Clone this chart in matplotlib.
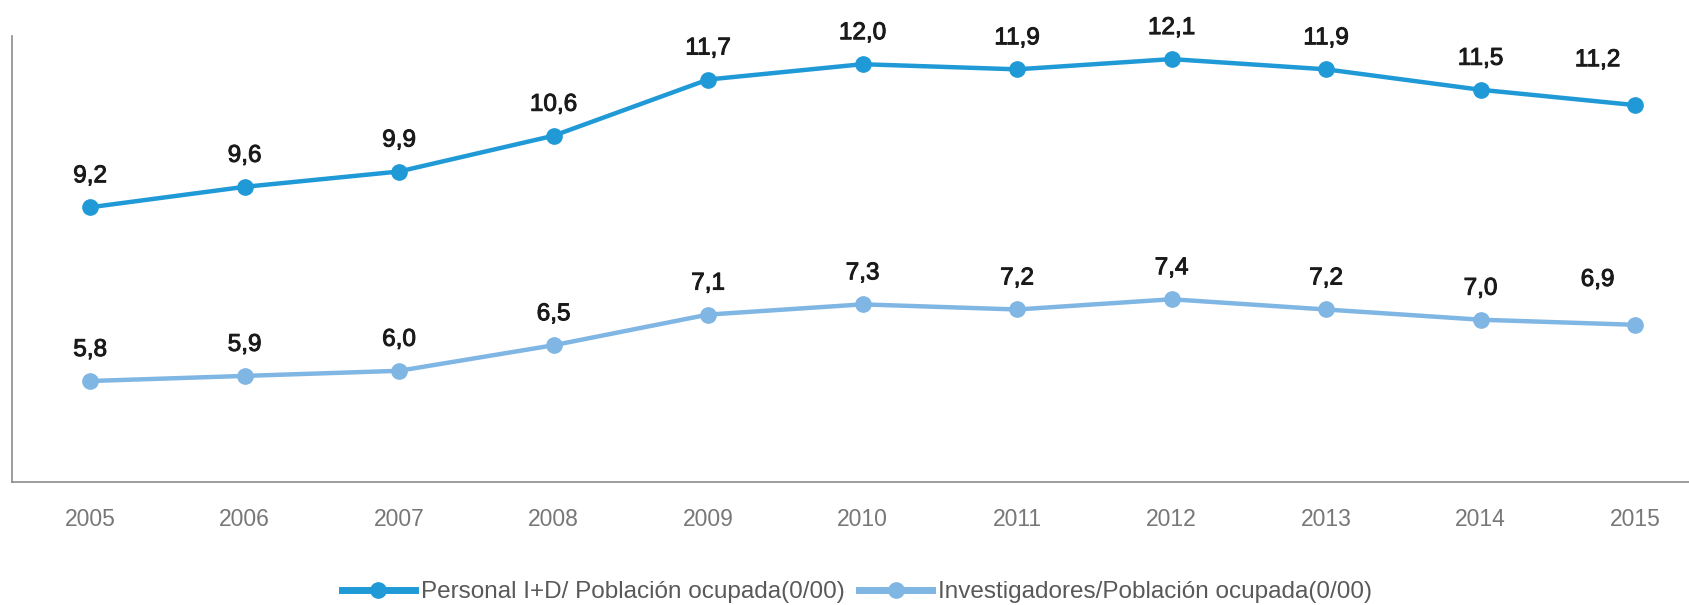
import matplotlib
matplotlib.use('Agg')
import matplotlib.pyplot as plt
import matplotlib.patheffects as pe
from matplotlib.lines import Line2D

# Data
years = ['2005', '2006', '2007', '2008', '2009', '2010', '2011', '2012', '2013', '2014', '2015']
personal = [9.2, 9.6, 9.9, 10.6, 11.7, 12.0, 11.9, 12.1, 11.9, 11.5, 11.2]
investigadores = [5.8, 5.9, 6.0, 6.5, 7.1, 7.3, 7.2, 7.4, 7.2, 7.0, 6.9]
series_names = ['Personal I+D/ Población ocupada(0/00)',
                'Investigadores/Población ocupada(0/00)']

c_dark = '#1f9ad6'
c_light = '#80b6e3'

plt.rcParams['font.family'] = ['Liberation Sans', 'DejaVu Sans']

fig = plt.figure(figsize=(16.9, 6.05), dpi=100)
ax = fig.add_axes([12 / 1690, 123 / 605, 1678 / 1690, 446 / 605])

x = list(range(len(years)))
for vals, col in [(personal, c_dark), (investigadores, c_light)]:
    ax.plot(x, vals, color=col, linewidth=3.2, marker='o', markersize=11, zorder=3)
    for i, v in enumerate(vals):
        # last label sits a bit left and higher in the original
        off = (-27, 28) if i == len(vals) - 1 else (0, 18)
        t = ax.annotate(f'{v:.1f}'.replace('.', ','), (i, v), textcoords='offset points',
                        xytext=off, ha='center', va='baseline', fontsize=17.5, color='#1a1a1a')
        # slightly heavier strokes, like the original labels
        t.set_path_effects([pe.withStroke(linewidth=0.7, foreground='#1a1a1a')])

ax.set_xlim(-0.505, 10.356)
ax.set_ylim(3.824, 12.552)
ax.set_xticks(x)
ax.set_xticklabels(years)
ax.set_yticks([])
ax.tick_params(axis='x', length=0, pad=19, labelsize=16.5, labelcolor='#777777')

for s in ['top', 'right']:
    ax.spines[s].set_visible(False)
for s in ['left', 'bottom']:
    ax.spines[s].set_color('#8c8c8c')
    ax.spines[s].set_linewidth(1.2)

handles = [Line2D([], [], color=c_dark, lw=5, marker='o', markersize=11),
           Line2D([], [], color=c_light, lw=5, marker='o', markersize=11)]
fig.legend(handles, series_names, loc='center', bbox_to_anchor=(857 / 1690, 13 / 605),
           ncol=2, frameon=False, fontsize=17.5, handlelength=3.0, handletextpad=0.25,
           columnspacing=0.6, labelcolor='#595959', borderpad=0)

fig.savefig('out.png', dpi=100)
